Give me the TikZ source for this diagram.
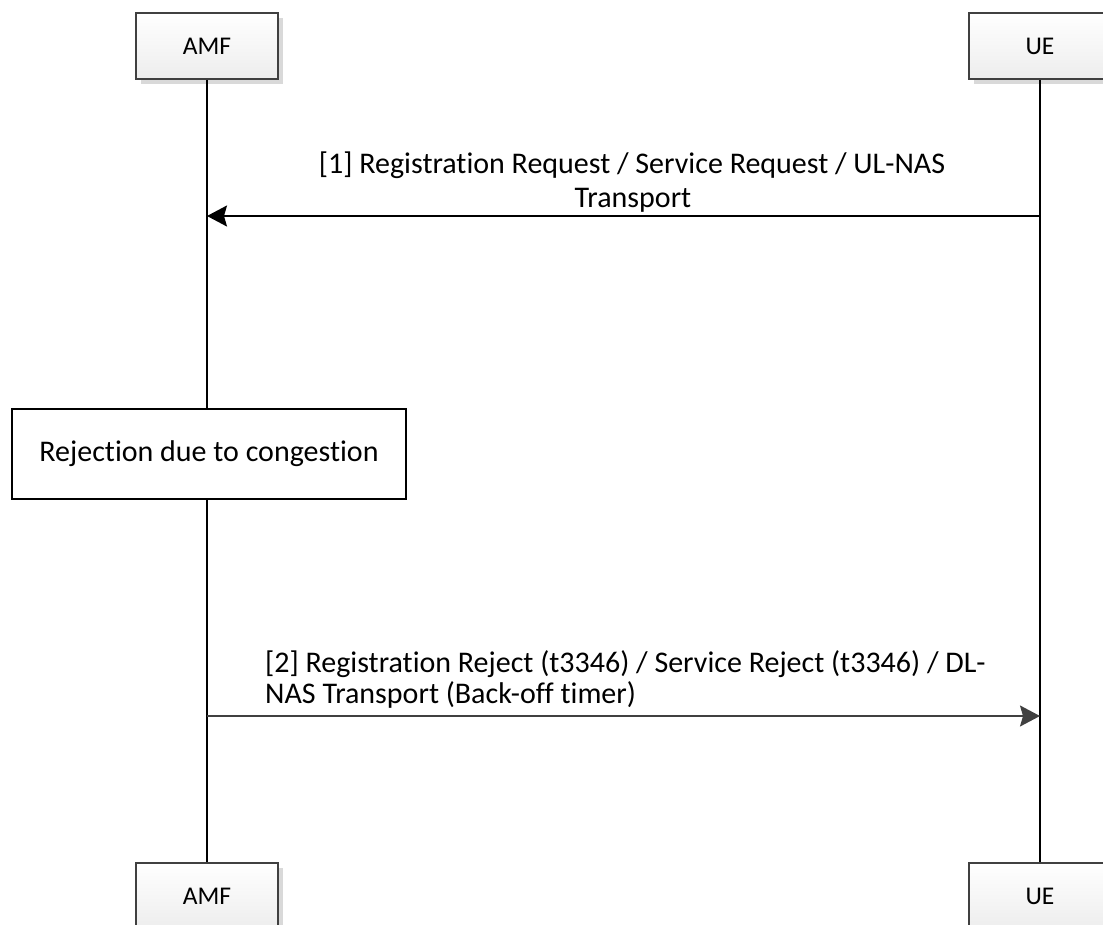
\documentclass[tikz,border=0pt]{standalone}
\usepackage{fontspec}
\setmainfont[Ligatures={NoCommon}]{Carlito}
\usetikzlibrary{arrows.meta,shadows}
\definecolor{boxline}{HTML}{404040}
\definecolor{shadowgray}{HTML}{D9D9D9}
\definecolor{msggray}{HTML}{404040}
\tikzset{
  actor/.style={draw=boxline, line width=1.6pt, top color=white, bottom color=black!7,
    minimum width=142pt, minimum height=66pt, inner sep=0pt,
    font=\fontsize{25.5}{30}\selectfont,
    drop shadow={shadow xshift=5pt, shadow yshift=-5pt, fill=shadowgray, opacity=1}},
  procbox/.style={draw=black, line width=1.6pt, fill=white,
    minimum width=394pt, minimum height=90pt, inner sep=0pt,
    font=\fontsize{30}{35}\selectfont},
  lifeline/.style={line width=1.8pt, black},
  msg/.style={line width=1.6pt, -{Stealth[length=20pt,width=21pt,inset=3pt]}},
  msglabel/.style={font=\fontsize{30}{35}\selectfont, inner sep=0pt, align=center}
}
\begin{document}
\begin{tikzpicture}[x=1pt,y=-1pt]
\useasboundingbox (0,0) rectangle (1103,924);
\clip (0,0) rectangle (1103,924);
% actors
\node[actor] (amftop) at (207,46) {AMF};
\node[actor] (uetop) at (1040,46) {UE};
\node[actor] (amfbot) at (207,896) {AMF};
\node[actor] (uebot) at (1040,896) {UE};
% process box
\node[procbox] (rej) at (209,454) {Rejection due to congestion};
% lifelines
\draw[lifeline] (amftop.south) -- (rej.north -| amftop.south);
\draw[lifeline] (rej.south -| amftop.south) -- (amfbot.north);
\draw[lifeline] (uetop.south) -- (uebot.north);
% message 1
\coordinate (m1ue) at (1040,216);
\coordinate (m1amf) at (207,216);
\draw[msg, black] (m1ue) -- (m1amf);
\node[msglabel, anchor=base] (l1a) at (632,173) {[1] Registration Request / Service Request / UL-NAS};
\node[msglabel, anchor=base] (l1b) at (633,207) {Transport};
% message 2
\coordinate (m2amf) at (207,716);
\coordinate (m2ue) at (1040,716);
\draw[msg, msggray] (m2amf) -- (m2ue);
\node[msglabel, anchor=base west] (l2a) at (265,672) {[2] Registration Reject (t3346) / Service Reject (t3346) / DL-};
\node[msglabel, anchor=base west] (l2b) at (265,703) {NAS Transport (Back-off timer)};
\end{tikzpicture}
\end{document}
